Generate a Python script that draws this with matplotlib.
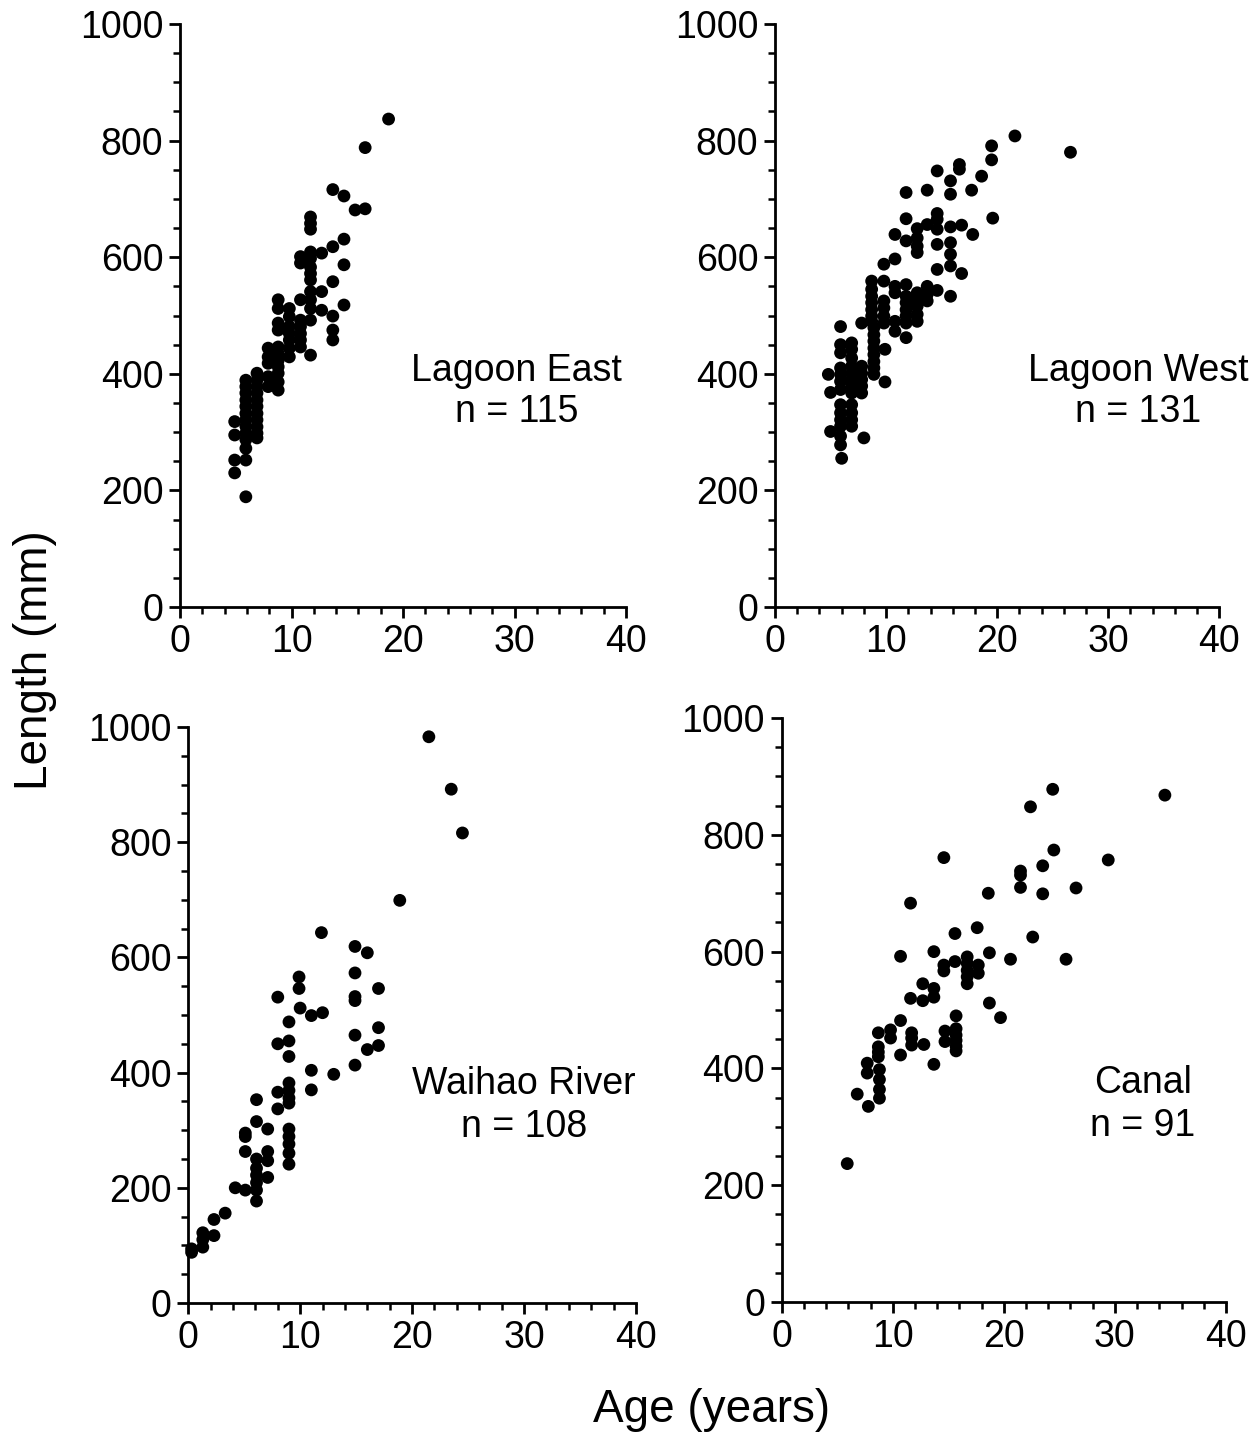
import numpy as np
import matplotlib
matplotlib.use("Agg")
import matplotlib.pyplot as plt
from matplotlib.ticker import MultipleLocator

plt.rcParams['font.family'] = ['Liberation Sans', 'DejaVu Sans']

# Lagoon East (ages, lengths at each age)
east_ages = [4.9, 5.9, 6.9, 7.9, 8.8, 9.8, 10.8, 11.7, 12.7, 13.7, 14.7, 15.7, 16.6, 18.7]
east_lens = [
    [318, 295, 252, 230],
    [389, 378, 367, 355, 344, 332, 321, 310, 298, 287, 272, 252, 189],
    [401, 389, 378, 367, 355, 344, 332, 321, 309, 298, 290],
    [444, 429, 418, 395, 378],
    [527, 512, 487, 475, 446, 435, 423, 412, 401, 386, 372],
    [512, 498, 481, 469, 458, 444, 429],
    [601, 590, 527, 492, 481, 469, 458, 446],
    [669, 658, 648, 609, 598, 583, 572, 561, 541, 527, 512, 492, 432],
    [607, 541, 509],
    [716, 618, 558, 499, 475, 458],
    [705, 631, 587, 518],
    [681],
    [788, 683],
    [837],
]

# Lagoon West
west_ages = [4.8, 5.0, 5.9, 6.0, 6.9, 7.8, 8.0, 8.7, 8.9, 9.8, 9.9, 10.8, 11.8, 12.8,
             13.7, 14.6, 15.8, 16.6, 16.8, 17.7, 17.8, 18.6, 19.5, 19.6, 21.6, 26.6]
west_lens = [
    [399],
    [368, 301],
    [481, 450, 436, 410, 399, 387, 373, 347, 333, 321, 310, 293, 278],
    [255],
    [453, 442, 427, 413, 401, 390, 379, 367, 347, 333, 321, 310],
    [487, 413, 401, 390, 379, 367],
    [290],
    [559, 545, 533, 522, 510, 499, 490],
    [479, 467, 456, 444, 433, 421, 410, 399],
    [588, 559, 525, 513, 499, 487],
    [442, 386],
    [639, 597, 550, 539, 490, 473],
    [711, 666, 628, 553, 533, 522, 510, 499, 487, 462],
    [649, 633, 619, 608, 539, 527, 516, 502, 490],
    [715, 656, 550, 536, 525],
    [748, 675, 665, 648, 622, 579, 543],
    [731, 708, 652, 625, 605, 585, 533],
    [759, 751],
    [655, 572],
    [715],
    [639],
    [739],
    [791, 767],
    [667],
    [808],
    [780],
]

# Waihao River
river_ages = [0.3, 1.3, 2.3, 3.3, 4.2, 5.1, 6.1, 7.1, 8.0, 9.0, 9.9, 10.0, 11.0, 11.9,
              12.0, 13.0, 14.9, 16.0, 17.0, 18.9, 21.5, 23.5, 24.5]
river_lens = [
    [94, 88],
    [122, 110, 97],
    [145, 117],
    [156],
    [200],
    [295, 289, 263, 196],
    [353, 315, 250, 234, 222, 209, 196, 177],
    [302, 263, 247, 218],
    [531, 450, 366, 337],
    [488, 455, 428, 382, 369, 356, 347, 302, 289, 276, 260, 241],
    [566, 546],
    [512],
    [499, 404, 370],
    [643],
    [504],
    [397],
    [619, 573, 532, 525, 465, 413],
    [608, 440],
    [546, 478, 447],
    [699],
    [983],
    [892],
    [816],
]

# Canal
canal_ages = [5.9, 6.8, 7.7, 7.8, 8.7, 8.8, 9.8, 10.7, 11.6, 11.7, 12.7, 12.8, 13.7,
              14.6, 14.7, 15.6, 15.7, 16.7, 17.6, 17.7, 18.6, 18.7, 19.7, 20.6, 21.5,
              22.4, 22.6, 23.5, 24.4, 24.5, 25.6, 26.5, 29.4, 34.5]
canal_lens = [
    [237],
    [356],
    [409, 392],
    [335],
    [461, 437, 428, 420],
    [398, 381, 364, 349],
    [466, 452],
    [592, 482, 423],
    [683, 520],
    [461, 452, 440],
    [545, 516],
    [441],
    [600, 537, 522, 407],
    [761, 577, 567],
    [464, 446],
    [631, 583],
    [490, 468, 457, 448, 438, 430],
    [591, 580, 568, 557, 545],
    [641],
    [577, 563],
    [700],
    [598, 512],
    [487],
    [587],
    [738, 731, 710],
    [848],
    [625],
    [747, 699],
    [878],
    [774],
    [587],
    [709],
    [757],
    [868],
]

site_names = ["Lagoon East", "Lagoon West", "Waihao River", "Canal"]
site_counts = [115, 131, 108, 91]


def expand(ages, lens):
    x, y = [], []
    for a, ls in zip(ages, lens):
        x += [a] * len(ls)
        y += ls
    return np.array(x), np.array(y)


fig = plt.figure(figsize=(12.6, 14.39), dpi=100, facecolor="w")

# axes rectangles (figure fractions)
rects = [
    [0.1429, 0.5782, 0.3540, 0.4051],
    [0.6151, 0.5782, 0.3526, 0.4051],
    [0.1494, 0.0945, 0.3553, 0.4003],
    [0.6204, 0.0952, 0.3526, 0.4058],
]
label_pos = [(30.2, 405, 334), (32.7, 405, 334), (30.0, 380, 305), (32.5, 375, 301)]
data = [(east_ages, east_lens), (west_ages, west_lens),
        (river_ages, river_lens), (canal_ages, canal_lens)]

for i in range(4):
    ax = fig.add_axes(rects[i])
    x, y = expand(*data[i])
    ax.scatter(x, y, s=85, c="black", edgecolors="none", clip_on=False, zorder=3)
    ax.set_xlim(0, 40)
    ax.set_ylim(0, 1000)
    ax.spines["top"].set_visible(False)
    ax.spines["right"].set_visible(False)
    ax.spines["left"].set_linewidth(2)
    ax.spines["bottom"].set_linewidth(2)
    ax.xaxis.set_major_locator(MultipleLocator(10))
    ax.xaxis.set_minor_locator(MultipleLocator(2))
    ax.yaxis.set_major_locator(MultipleLocator(200))
    ax.yaxis.set_minor_locator(MultipleLocator(50))
    ax.tick_params(which="major", direction="out", length=8, width=2,
                   labelsize=27, pad=4)
    ax.tick_params(which="minor", direction="out", length=5, width=1.8)
    tx, ty1, ty2 = label_pos[i]
    ax.text(tx, ty1, site_names[i], fontsize=27, ha="center", va="center")
    ax.text(tx, ty2, "n = %d" % site_counts[i], fontsize=27, ha="center", va="center")

fig.text(0.028, 0.541, "Length (mm)", fontsize=33, rotation=90, ha="center", va="center")
fig.text(0.565, 0.02, "Age (years)", fontsize=33, ha="center", va="center")

fig.savefig("out.png", dpi=100)
